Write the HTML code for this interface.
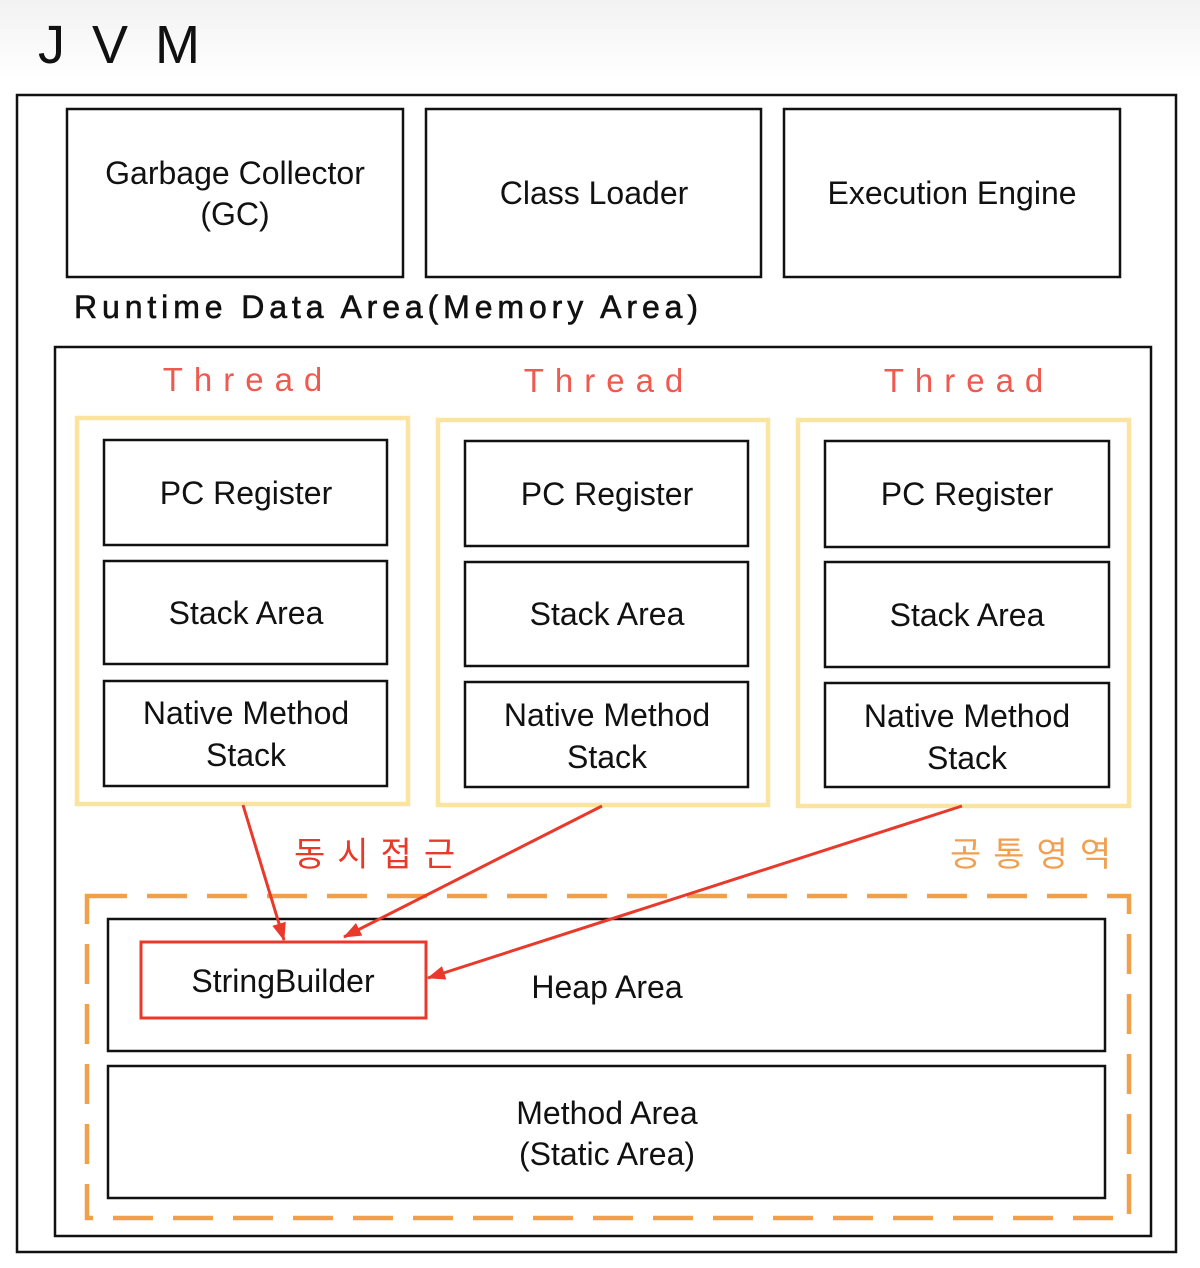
<!DOCTYPE html>
<html><head><meta charset="utf-8"><style>
html,body{margin:0;padding:0;background:#fff;}
svg{display:block}
text{font-family:"Liberation Sans","Noto Sans CJK KR",sans-serif;}
</style></head><body>
<svg width="1200" height="1268" viewBox="0 0 1200 1268" xmlns="http://www.w3.org/2000/svg">
<defs>
<linearGradient id="bg" x1="0" y1="0" x2="0" y2="1">
<stop offset="0" stop-color="#f2f2f2"/><stop offset="1" stop-color="#ffffff"/>
</linearGradient>
<marker id="ah" markerWidth="18" markerHeight="14" refX="17" refY="7" orient="auto" markerUnits="userSpaceOnUse" viewBox="0 0 18 14">
<path d="M0,0 L18,7 L0,14 z" fill="#e8392b"/>
</marker>
</defs>
<rect x="0" y="0" width="1200" height="80" fill="url(#bg)"/>
<text x="38" y="63" font-size="54" fill="#111" letter-spacing="27">JVM</text>
<rect x="17" y="95" width="1159" height="1157" fill="none" stroke="#111" stroke-width="2.5"/>
<g fill="none" stroke="#111" stroke-width="2.5">
<rect x="67" y="109" width="336" height="168"/>
<rect x="426" y="109" width="335" height="168"/>
<rect x="784" y="109" width="336" height="168"/>
</g>
<g font-size="32" fill="#111" text-anchor="middle">
<text x="235" y="184">Garbage Collector</text>
<text x="235" y="225">(GC)</text>
<text x="594" y="204">Class Loader</text>
<text x="952" y="204">Execution Engine</text>
</g>
<text x="74" y="318" font-size="32" fill="#111" stroke="#111" stroke-width="0.6" letter-spacing="2" textLength="626">Runtime  Data  Area(Memory  Area)</text>
<rect x="55" y="347" width="1096" height="889" fill="none" stroke="#111" stroke-width="2.5"/>
<g font-size="33" fill="#ef5a50" text-anchor="middle" letter-spacing="11">
<text x="248" y="391">Thread</text>
<text x="609" y="392">Thread</text>
<text x="969" y="392">Thread</text>
</g>
<g fill="none" stroke="#fbe4a0" stroke-width="4.5">
<rect x="77" y="418" width="331" height="386"/>
<rect x="438" y="420" width="330" height="385"/>
<rect x="798" y="420" width="331" height="386"/>
</g>
<g fill="none" stroke="#111" stroke-width="2.5">
<rect x="104" y="440" width="283" height="105"/>
<rect x="104" y="561" width="283" height="103"/>
<rect x="104" y="681" width="283" height="105"/>
<rect x="465" y="441" width="283" height="105"/>
<rect x="465" y="562" width="283" height="104"/>
<rect x="465" y="682" width="283" height="105"/>
<rect x="825" y="441" width="284" height="106"/>
<rect x="825" y="562" width="284" height="105"/>
<rect x="825" y="683" width="284" height="104"/>
</g>
<g font-size="32" fill="#111" text-anchor="middle">
<text x="246" y="504">PC Register</text>
<text x="246" y="624">Stack Area</text>
<text x="246" y="724">Native Method</text>
<text x="246" y="766">Stack</text>
<text x="607" y="505">PC Register</text>
<text x="607" y="625">Stack Area</text>
<text x="607" y="726">Native Method</text>
<text x="607" y="768">Stack</text>
<text x="967" y="505">PC Register</text>
<text x="967" y="626">Stack Area</text>
<text x="967" y="727">Native Method</text>
<text x="967" y="769">Stack</text>
</g>
<text x="294" y="866" font-size="34" fill="#e8392b" letter-spacing="12">동시접근</text>
<text x="950" y="866" font-size="34" fill="#f0a050" letter-spacing="12">공통영역</text>
<rect x="87" y="896" width="1042" height="322" fill="none" stroke="#f0a04a" stroke-width="4.5" stroke-dasharray="40 20"/>
<g fill="none" stroke="#111" stroke-width="2.5">
<rect x="108" y="919" width="997" height="132"/>
<rect x="108" y="1066" width="997" height="132"/>
</g>
<rect x="141" y="942" width="285" height="76" fill="none" stroke="#e8392b" stroke-width="3"/>
<g font-size="32" fill="#111" text-anchor="middle">
<text x="283" y="992">StringBuilder</text>
<text x="607" y="998">Heap Area</text>
<text x="607" y="1124">Method Area</text>
<text x="607" y="1165">(Static Area)</text>
</g>
<g stroke="#e8392b" stroke-width="3" fill="none" marker-end="url(#ah)">
<line x1="243" y1="805" x2="284" y2="940"/>
<line x1="602" y1="806" x2="344" y2="937"/>
<line x1="962" y1="806" x2="428" y2="978"/>
</g>
</svg>
</body></html>
